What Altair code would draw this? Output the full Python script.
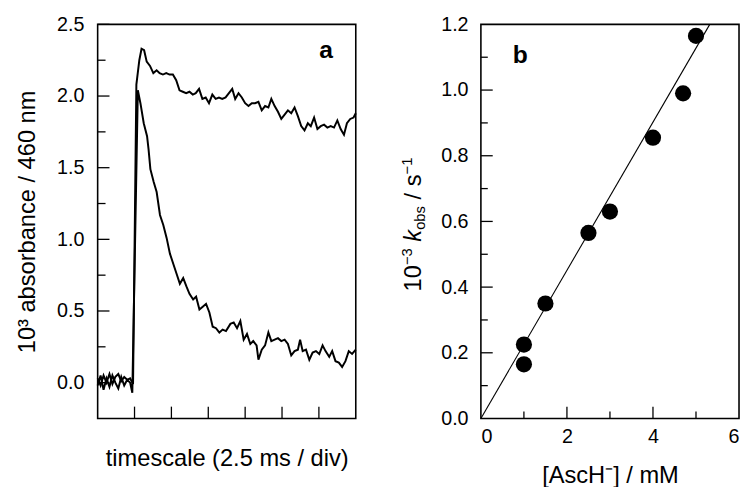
import altair as alt
import pandas as pd

FONT = "Liberation Sans"

# ---------------- panel a : absorbance traces (time in divisions) ----------------
upper_t = [0.00, 0.08, 0.16, 0.24, 0.32, 0.40, 0.48, 0.56, 0.64, 0.72, 0.80, 0.88, 0.96,
           1.05, 1.13, 1.19, 1.26, 1.33, 1.42, 1.51, 1.60, 1.68, 1.77,
           1.86, 1.95, 2.04, 2.13, 2.22, 2.31, 2.40, 2.49, 2.58, 2.66,
           2.75, 2.84, 2.93, 3.02, 3.11, 3.20, 3.29, 3.38, 3.47, 3.56,
           3.65, 3.73, 3.82, 3.91, 4.00, 4.09, 4.18, 4.27, 4.36, 4.45,
           4.54, 4.63, 4.71, 4.80, 4.89, 4.98, 5.07, 5.16, 5.25, 5.34,
           5.43, 5.52, 5.61, 5.70, 5.78, 5.87, 5.96, 6.05, 6.14, 6.23,
           6.32, 6.41, 6.50, 6.59, 6.68, 6.76, 6.85, 6.94, 7.00]
upper_v = [0.03, -0.02, 0.05, 0.00, 0.06, -0.01, 0.04, 0.06, 0.01, 0.04, 0.02, 0.03, -0.01,
           2.08, 2.25, 2.33, 2.32, 2.24, 2.21, 2.16, 2.18, 2.16, 2.15,
           2.16, 2.15, 2.15, 2.11, 2.04, 2.03, 2.02, 2.03, 2.01, 2.02,
           2.05, 1.98, 1.99, 1.95, 2.01, 1.98, 1.99, 1.98, 1.99, 2.02,
           2.05, 1.98, 2.02, 1.99, 1.95, 1.93, 1.95, 1.95, 1.96, 1.90,
           1.93, 1.92, 1.98, 1.93, 1.89, 1.84, 1.87, 1.90, 1.88, 1.92,
           1.86, 1.79, 1.76, 1.81, 1.79, 1.85, 1.77, 1.79, 1.80, 1.78,
           1.79, 1.78, 1.83, 1.77, 1.73, 1.81, 1.84, 1.85, 1.88]

lower_t = [0.00, 0.08, 0.16, 0.24, 0.32, 0.40, 0.48, 0.56, 0.64, 0.72, 0.80, 0.88, 0.94,
           1.09, 1.16, 1.25, 1.34, 1.38, 1.43, 1.52, 1.60, 1.69, 1.78,
           1.87, 1.96, 2.05, 2.14, 2.23, 2.32, 2.41, 2.49, 2.59, 2.67,
           2.76, 2.85, 2.94, 3.03, 3.12, 3.21, 3.30, 3.39, 3.48, 3.60,
           3.69, 3.78, 3.87, 3.96, 4.05, 4.14, 4.22, 4.31, 4.36, 4.45,
           4.54, 4.63, 4.71, 4.80, 4.89, 4.98, 5.07, 5.16, 5.25, 5.34,
           5.43, 5.49, 5.56, 5.65, 5.74, 5.83, 5.92, 6.01, 6.10, 6.18,
           6.28, 6.36, 6.45, 6.54, 6.63, 6.72, 6.81, 6.90, 7.00]
lower_v = [-0.02, 0.05, -0.05, 0.03, -0.03, 0.05, 0.00, -0.04, 0.04, -0.02, 0.02, 0.00, -0.07,
           2.04, 1.95, 1.81, 1.72, 1.63, 1.49, 1.40, 1.33, 1.17, 1.10,
           1.01, 0.90, 0.83, 0.76, 0.69, 0.73, 0.67, 0.62, 0.58, 0.60,
           0.51, 0.53, 0.55, 0.49, 0.39, 0.38, 0.35, 0.37, 0.36, 0.41,
           0.42, 0.38, 0.43, 0.30, 0.34, 0.27, 0.29, 0.26, 0.16, 0.23,
           0.26, 0.35, 0.29, 0.30, 0.31, 0.29, 0.30, 0.27, 0.19, 0.22,
           0.23, 0.30, 0.22, 0.23, 0.16, 0.21, 0.22, 0.20, 0.26, 0.22,
           0.18, 0.22, 0.15, 0.14, 0.11, 0.15, 0.22, 0.20, 0.23]

a_y_labels = [0.0, 0.5, 1.0, 1.5, 2.0, 2.5]
a_y_minor = [0.25, 0.75, 1.25, 1.75, 2.25]
a_x_ticks = [1, 2, 3, 4, 5, 6]

# ---------------- panel b : k_obs vs [AscH-] ----------------
conc = [1.0, 1.0, 1.5, 2.5, 3.0, 4.0, 4.7, 5.0]
kobs = [0.165, 0.225, 0.35, 0.565, 0.63, 0.855, 0.99, 1.165]
fit_x = [0.0, 5.32]
fit_y = [0.0, 1.2]
b_x_labels = [0, 2, 4, 6]
b_x_major = [2, 4]
b_x_minor = [1, 3, 5]
b_y_labels = [0.0, 0.2, 0.4, 0.6, 0.8, 1.0, 1.2]
b_y_major = [0.2, 0.4, 0.6, 0.8, 1.0]
b_y_minor = [0.1, 0.3, 0.5, 0.7, 0.9, 1.1]

W_A, H = 262, 400
W_B = 262
TICK = dict(color="black", strokeWidth=1.3)

# ---------------- panel a ----------------
traces = pd.concat([
    pd.DataFrame({"t": upper_t, "v": upper_v, "s": "upper"}),
    pd.DataFrame({"t": lower_t, "v": lower_v, "s": "lower"}),
])
sax = alt.Scale(domain=[0, 7], nice=False, zero=False)
say = alt.Scale(domain=[-0.25, 2.5], nice=False, zero=False)
ax_a_x = alt.Axis(title="timescale (2.5 ms / div)", labels=False, ticks=False,
                  domain=False, grid=False, titlePadding=29)
ax_a_y = alt.Axis(title="10³ absorbance / 460 nm", values=a_y_labels, format=".1f",
                  ticks=False, domain=False, grid=False, labelPadding=14, titlePadding=17)
XA = lambda fld: alt.X(fld, scale=sax, axis=ax_a_x)
YA = lambda fld: alt.Y(fld, scale=say, axis=ax_a_y)

lines_a = alt.Chart(traces).mark_line(color="black", strokeWidth=2).encode(
    x=XA("t:Q"), y=YA("v:Q"), detail="s:N")
ytm_a = alt.Chart(pd.DataFrame({"v": a_y_labels})).mark_rule(**TICK).encode(
    y=YA("v:Q"), x=alt.value(0), x2=alt.value(12))
ytn_a = alt.Chart(pd.DataFrame({"v": a_y_minor})).mark_rule(**TICK).encode(
    y=YA("v:Q"), x=alt.value(0), x2=alt.value(8))
xt_a = alt.Chart(pd.DataFrame({"t": a_x_ticks})).mark_rule(**TICK).encode(
    x=XA("t:Q"), y=alt.value(H), y2=alt.value(H - 12))
lab_a = alt.Chart(pd.DataFrame({"l": ["a"]})).mark_text(
    font=FONT, fontSize=25, fontWeight="bold", align="center", baseline="alphabetic", color="black"
).encode(x=alt.value(232), y=alt.value(34), text="l:N")

panel_a = alt.layer(lines_a, ytm_a, ytn_a, xt_a, lab_a).properties(width=W_A, height=H)

# ---------------- panel b ----------------
sbx = alt.Scale(domain=[0, 6], nice=False, zero=False)
sby = alt.Scale(domain=[0, 1.2], nice=False, zero=False)
ax_b_x = alt.Axis(title="[AscH⁻] / mM", values=b_x_labels, ticks=False,
                  domain=False, grid=False, labelPadding=8, titlePadding=18)
ax_b_y = alt.Axis(title="", values=b_y_labels, format=".1f", ticks=False,
                  domain=False, grid=False, labelPadding=13, titlePadding=0)
XB = lambda fld: alt.X(fld, scale=sbx, axis=ax_b_x)
YB = lambda fld: alt.Y(fld, scale=sby, axis=ax_b_y)

fit = alt.Chart(pd.DataFrame({"x": fit_x, "y": fit_y})).mark_line(color="black", strokeWidth=1.1).encode(
    x=XB("x:Q"), y=YB("y:Q"))
pts = alt.Chart(pd.DataFrame({"x": conc, "y": kobs})).mark_circle(
    color="black", opacity=1, size=270).encode(x=XB("x:Q"), y=YB("y:Q"))
ytm_b = alt.Chart(pd.DataFrame({"y": b_y_major})).mark_rule(**TICK).encode(
    y=YB("y:Q"), x=alt.value(0), x2=alt.value(12))
ytn_b = alt.Chart(pd.DataFrame({"y": b_y_minor})).mark_rule(**TICK).encode(
    y=YB("y:Q"), x=alt.value(0), x2=alt.value(7))
xtm_b = alt.Chart(pd.DataFrame({"x": b_x_major})).mark_rule(**TICK).encode(
    x=XB("x:Q"), y=alt.value(H), y2=alt.value(H - 12))
xtn_b = alt.Chart(pd.DataFrame({"x": b_x_minor})).mark_rule(**TICK).encode(
    x=XB("x:Q"), y=alt.value(H), y2=alt.value(H - 7))
lab_b = alt.Chart(pd.DataFrame({"l": ["b"]})).mark_text(
    font=FONT, fontSize=25, fontWeight="bold", align="center", baseline="alphabetic", color="black"
).encode(x=alt.value(40), y=alt.value(39), text="l:N")

# rotated y title "10^-3 k_obs / s^-1" built from pieces
F, f = 24, 15
EM = {"1": 0.556, "0": 0.556, "3": 0.556, "−": 0.584, "k": 0.5, "o": 0.556,
      "b": 0.556, "s": 0.5, "/": 0.278, " ": 0.278}
pieces = [("10", F, "normal", 0), ("−3", f, "normal", -9), (" ", F, "normal", 0),
          ("k", F, "italic", 0), ("obs", f, "normal", 4), (" ", F, "normal", 0),
          ("/", F, "normal", 0), (" ", F, "normal", 0), ("s", F, "normal", 0),
          ("−1", f, "normal", -9)]
title_layers = []
ypos = 271.0
xbase = -61
for txt, size, style, shift in pieces:
    w = sum(EM[c] for c in txt) * size
    if txt.strip():
        title_layers.append(
            alt.Chart(pd.DataFrame({"l": [txt]})).mark_text(
                font=FONT, fontSize=size, fontStyle=style, angle=270, align="left",
                baseline="alphabetic", color="black"
            ).encode(x=alt.value(xbase + shift), y=alt.value(ypos), text="l:N")
        )
    ypos -= w

panel_b = alt.layer(fit, pts, ytm_b, ytn_b, xtm_b, xtn_b, lab_b, *title_layers).properties(
    width=W_B, height=H)

chart = alt.hconcat(panel_a, panel_b, spacing=39).properties(
    padding={"left": 7, "top": 2, "right": 0, "bottom": 0}, background="white"
).configure_view(stroke="black", strokeWidth=1.6).configure_axis(
    labelFont=FONT, labelFontSize=20, labelColor="black",
    titleFont=FONT, titleFontSize=24, titleFontWeight="normal", titleColor="black",
)

chart.save("out.html", embed_options={"renderer": "svg", "actions": False})
